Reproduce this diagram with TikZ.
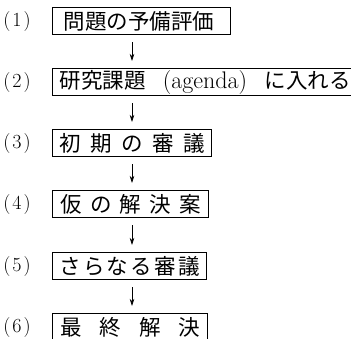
\documentclass[tikz,border=0pt]{standalone}
\usepackage{fontspec}
\newfontfamily\jp{Noto Sans CJK JP}
\usetikzlibrary{arrows.meta,calc}
\begin{document}
\begin{tikzpicture}[x=1pt,y=1pt,
  stepbox/.style={draw,line width=1.1pt,anchor=west,inner sep=0pt,minimum height=27pt,
    font=\fontsize{21.5}{21.5}\selectfont\jp},
  numlabel/.style={inner sep=0pt,font=\fontsize{20}{20}\selectfont},
  flow/.style={line width=0.7pt,-{Stealth[length=7pt,width=4.5pt]}}]
\useasboundingbox (0,0) rectangle (351,-339);
\clip (0,0) rectangle (351,-339);
% boxes
\node[stepbox,minimum width=178pt] (b1) at (52,-21) {\makebox[156pt][s]{問題の予備評価}};
\node[stepbox,minimum width=305pt] (b2) at (52,-82) {\makebox[291pt][s]{研究課題\hfill{\rmfamily\fontsize{24}{24}\selectfont (agenda)}\hfill に入れる}};
\node[stepbox,minimum width=159pt] (b3) at (52,-143) {\makebox[145pt][s]{初\hfill 期\hfill の\hfill 審\hfill 議}};
\node[stepbox,minimum width=156pt] (b4) at (52,-204) {\makebox[140pt][s]{仮\hfill の\hfill 解\hfill 決\hfill 案}};
\node[stepbox,minimum width=154pt] (b5) at (52,-266) {\makebox[140pt][s]{さ\hfill ら\hfill な\hfill る\hfill 審\hfill 議}};
\node[stepbox,minimum width=155pt] (b6) at (52,-327) {\makebox[140pt][s]{最\hfill 終\hfill 解\hfill 決}};
% labels
\node[numlabel] (l1) at (17,-22) {(\kern2pt1\kern2pt)};
\node[numlabel] (l2) at (17,-83) {(\kern2pt2\kern2pt)};
\node[numlabel] (l3) at (17,-144) {(\kern2pt3\kern2pt)};
\node[numlabel] (l4) at (17,-205) {(\kern2pt4\kern2pt)};
\node[numlabel] (l5) at (17,-267) {(\kern2pt5\kern2pt)};
\node[numlabel] (l6) at (17,-328) {(\kern2pt6\kern2pt)};
% arrows
\foreach \a/\b in {b1/b2,b2/b3,b3/b4,b4/b5,b5/b6}
  \draw[flow] ($(\a.south west)+(80,-7)$) -- ($(\b.north west)+(80,7)$);
\end{tikzpicture}
\end{document}
